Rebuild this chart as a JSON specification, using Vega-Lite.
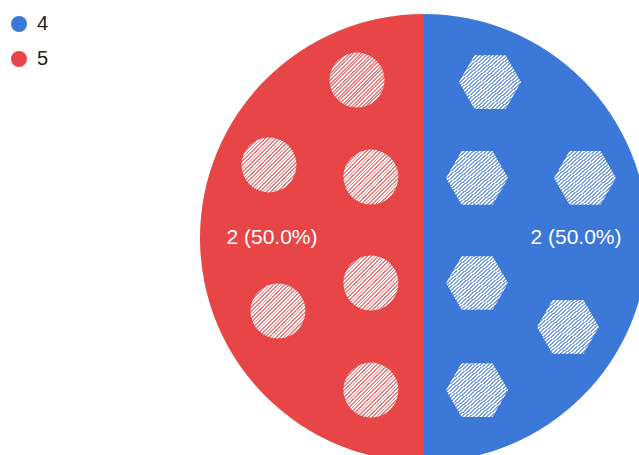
{
  "$schema": "https://vega.github.io/schema/vega-lite/v6.json",
  "width": 639,
  "height": 455,
  "padding": 0,
  "autosize": {"type": "none"},
  "background": "#ffffff",
  "config": {
    "view": {"stroke": null},
    "font": "Liberation Sans",
    "point": {
      "fill": {
        "gradient": "linear", "x1": 0, "y1": 0, "x2": 1, "y2": 1,
        "stops": [
          {"offset": 0, "color": "#ffffff"}, {"offset": 0.01667, "color": "#ffffff"}, {"offset": 0.01667, "color": "rgba(255,255,255,0.3)"}, {"offset": 0.03333, "color": "rgba(255,255,255,0.3)"},
          {"offset": 0.03333, "color": "#ffffff"}, {"offset": 0.05, "color": "#ffffff"}, {"offset": 0.05, "color": "rgba(255,255,255,0.3)"}, {"offset": 0.06667, "color": "rgba(255,255,255,0.3)"},
          {"offset": 0.06667, "color": "#ffffff"}, {"offset": 0.08333, "color": "#ffffff"}, {"offset": 0.08333, "color": "rgba(255,255,255,0.3)"}, {"offset": 0.1, "color": "rgba(255,255,255,0.3)"},
          {"offset": 0.1, "color": "#ffffff"}, {"offset": 0.11667, "color": "#ffffff"}, {"offset": 0.11667, "color": "rgba(255,255,255,0.3)"}, {"offset": 0.13333, "color": "rgba(255,255,255,0.3)"},
          {"offset": 0.13333, "color": "#ffffff"}, {"offset": 0.15, "color": "#ffffff"}, {"offset": 0.15, "color": "rgba(255,255,255,0.3)"}, {"offset": 0.16667, "color": "rgba(255,255,255,0.3)"},
          {"offset": 0.16667, "color": "#ffffff"}, {"offset": 0.18333, "color": "#ffffff"}, {"offset": 0.18333, "color": "rgba(255,255,255,0.3)"}, {"offset": 0.2, "color": "rgba(255,255,255,0.3)"},
          {"offset": 0.2, "color": "#ffffff"}, {"offset": 0.21667, "color": "#ffffff"}, {"offset": 0.21667, "color": "rgba(255,255,255,0.3)"}, {"offset": 0.23333, "color": "rgba(255,255,255,0.3)"},
          {"offset": 0.23333, "color": "#ffffff"}, {"offset": 0.25, "color": "#ffffff"}, {"offset": 0.25, "color": "rgba(255,255,255,0.3)"}, {"offset": 0.26667, "color": "rgba(255,255,255,0.3)"},
          {"offset": 0.26667, "color": "#ffffff"}, {"offset": 0.28333, "color": "#ffffff"}, {"offset": 0.28333, "color": "rgba(255,255,255,0.3)"}, {"offset": 0.3, "color": "rgba(255,255,255,0.3)"},
          {"offset": 0.3, "color": "#ffffff"}, {"offset": 0.31667, "color": "#ffffff"}, {"offset": 0.31667, "color": "rgba(255,255,255,0.3)"}, {"offset": 0.33333, "color": "rgba(255,255,255,0.3)"},
          {"offset": 0.33333, "color": "#ffffff"}, {"offset": 0.35, "color": "#ffffff"}, {"offset": 0.35, "color": "rgba(255,255,255,0.3)"}, {"offset": 0.36667, "color": "rgba(255,255,255,0.3)"},
          {"offset": 0.36667, "color": "#ffffff"}, {"offset": 0.38333, "color": "#ffffff"}, {"offset": 0.38333, "color": "rgba(255,255,255,0.3)"}, {"offset": 0.4, "color": "rgba(255,255,255,0.3)"},
          {"offset": 0.4, "color": "#ffffff"}, {"offset": 0.41667, "color": "#ffffff"}, {"offset": 0.41667, "color": "rgba(255,255,255,0.3)"}, {"offset": 0.43333, "color": "rgba(255,255,255,0.3)"},
          {"offset": 0.43333, "color": "#ffffff"}, {"offset": 0.45, "color": "#ffffff"}, {"offset": 0.45, "color": "rgba(255,255,255,0.3)"}, {"offset": 0.46667, "color": "rgba(255,255,255,0.3)"},
          {"offset": 0.46667, "color": "#ffffff"}, {"offset": 0.48333, "color": "#ffffff"}, {"offset": 0.48333, "color": "rgba(255,255,255,0.3)"}, {"offset": 0.5, "color": "rgba(255,255,255,0.3)"},
          {"offset": 0.5, "color": "#ffffff"}, {"offset": 0.51667, "color": "#ffffff"}, {"offset": 0.51667, "color": "rgba(255,255,255,0.3)"}, {"offset": 0.53333, "color": "rgba(255,255,255,0.3)"},
          {"offset": 0.53333, "color": "#ffffff"}, {"offset": 0.55, "color": "#ffffff"}, {"offset": 0.55, "color": "rgba(255,255,255,0.3)"}, {"offset": 0.56667, "color": "rgba(255,255,255,0.3)"},
          {"offset": 0.56667, "color": "#ffffff"}, {"offset": 0.58333, "color": "#ffffff"}, {"offset": 0.58333, "color": "rgba(255,255,255,0.3)"}, {"offset": 0.6, "color": "rgba(255,255,255,0.3)"},
          {"offset": 0.6, "color": "#ffffff"}, {"offset": 0.61667, "color": "#ffffff"}, {"offset": 0.61667, "color": "rgba(255,255,255,0.3)"}, {"offset": 0.63333, "color": "rgba(255,255,255,0.3)"},
          {"offset": 0.63333, "color": "#ffffff"}, {"offset": 0.65, "color": "#ffffff"}, {"offset": 0.65, "color": "rgba(255,255,255,0.3)"}, {"offset": 0.66667, "color": "rgba(255,255,255,0.3)"},
          {"offset": 0.66667, "color": "#ffffff"}, {"offset": 0.68333, "color": "#ffffff"}, {"offset": 0.68333, "color": "rgba(255,255,255,0.3)"}, {"offset": 0.7, "color": "rgba(255,255,255,0.3)"},
          {"offset": 0.7, "color": "#ffffff"}, {"offset": 0.71667, "color": "#ffffff"}, {"offset": 0.71667, "color": "rgba(255,255,255,0.3)"}, {"offset": 0.73333, "color": "rgba(255,255,255,0.3)"},
          {"offset": 0.73333, "color": "#ffffff"}, {"offset": 0.75, "color": "#ffffff"}, {"offset": 0.75, "color": "rgba(255,255,255,0.3)"}, {"offset": 0.76667, "color": "rgba(255,255,255,0.3)"},
          {"offset": 0.76667, "color": "#ffffff"}, {"offset": 0.78333, "color": "#ffffff"}, {"offset": 0.78333, "color": "rgba(255,255,255,0.3)"}, {"offset": 0.8, "color": "rgba(255,255,255,0.3)"},
          {"offset": 0.8, "color": "#ffffff"}, {"offset": 0.81667, "color": "#ffffff"}, {"offset": 0.81667, "color": "rgba(255,255,255,0.3)"}, {"offset": 0.83333, "color": "rgba(255,255,255,0.3)"},
          {"offset": 0.83333, "color": "#ffffff"}, {"offset": 0.85, "color": "#ffffff"}, {"offset": 0.85, "color": "rgba(255,255,255,0.3)"}, {"offset": 0.86667, "color": "rgba(255,255,255,0.3)"},
          {"offset": 0.86667, "color": "#ffffff"}, {"offset": 0.88333, "color": "#ffffff"}, {"offset": 0.88333, "color": "rgba(255,255,255,0.3)"}, {"offset": 0.9, "color": "rgba(255,255,255,0.3)"},
          {"offset": 0.9, "color": "#ffffff"}, {"offset": 0.91667, "color": "#ffffff"}, {"offset": 0.91667, "color": "rgba(255,255,255,0.3)"}, {"offset": 0.93333, "color": "rgba(255,255,255,0.3)"},
          {"offset": 0.93333, "color": "#ffffff"}, {"offset": 0.95, "color": "#ffffff"}, {"offset": 0.95, "color": "rgba(255,255,255,0.3)"}, {"offset": 0.96667, "color": "rgba(255,255,255,0.3)"},
          {"offset": 0.96667, "color": "#ffffff"}, {"offset": 0.98333, "color": "#ffffff"}, {"offset": 0.98333, "color": "rgba(255,255,255,0.3)"}, {"offset": 1, "color": "rgba(255,255,255,0.3)"}
        ]
      }
    }
  },
  "datasets": {
    "answers": [
      {"answer": "4", "count": 2, "label": "2 (50.0%)"},
      {"answer": "5", "count": 2, "label": "2 (50.0%)"}
    ],
    "motifs": [
      {"kind": "circle", "x": -0.299, "y": 0.705},
      {"kind": "circle", "x": -0.692, "y": 0.326},
      {"kind": "circle", "x": -0.237, "y": 0.272},
      {"kind": "circle", "x": -0.237, "y": -0.201},
      {"kind": "circle", "x": -0.652, "y": -0.326},
      {"kind": "circle", "x": -0.237, "y": -0.679},
      {"kind": "hexagon", "x": 0.295, "y": 0.696},
      {"kind": "hexagon", "x": 0.237, "y": 0.268},
      {"kind": "hexagon", "x": 0.719, "y": 0.268},
      {"kind": "hexagon", "x": 0.237, "y": -0.201},
      {"kind": "hexagon", "x": 0.643, "y": -0.397},
      {"kind": "hexagon", "x": 0.237, "y": -0.679}
    ]
  },
  "layer": [
    {
      "data": {"name": "answers"},
      "mark": {"type": "arc", "radius": 224},
      "encoding": {
        "x": {"datum": 0, "type": "quantitative", "scale": {"domain": [-1.893, 0.96], "nice": false, "zero": false}, "axis": null},
        "y": {"datum": 0, "type": "quantitative", "scale": {"domain": [-0.969, 1.0625], "nice": false, "zero": false}, "axis": null},
        "theta": {"field": "count", "type": "quantitative", "stack": true},
        "color": {
          "field": "answer",
          "type": "nominal",
          "scale": {"domain": ["4", "5"], "range": ["#3c78d8", "#e84547"]},
          "legend": {
            "title": null,
            "orient": "none",
            "legendX": 9,
            "legendY": 14,
            "symbolType": "circle",
            "symbolSize": 256,
            "symbolStrokeWidth": 0,
            "symbolOpacity": 1,
            "labelFontSize": 20,
            "labelColor": "#222222",
            "labelOffset": 8,
            "rowPadding": 15,
            "labelFont": "Liberation Sans"
          }
        }
      }
    },
    {
      "data": {"name": "answers"},
      "mark": {"type": "text", "radius": 152, "color": "#ffffff", "fontSize": 21, "align": "center", "baseline": "middle", "font": "Liberation Sans"},
      "encoding": {
        "x": {"datum": 0, "type": "quantitative"},
        "y": {"datum": 0, "type": "quantitative"},
        "theta": {"field": "count", "type": "quantitative", "stack": true},
        "detail": {"field": "answer"},
        "text": {"field": "label"}
      }
    },
    {
      "data": {"name": "motifs"},
      "transform": [{"filter": "datum.kind === 'circle'"}],
      "mark": {"type": "point", "shape": "circle", "filled": true, "opacity": 1, "size": 3025, "strokeWidth": 0},
      "encoding": {
        "x": {"field": "x", "type": "quantitative"},
        "y": {"field": "y", "type": "quantitative"}
      }
    },
    {
      "data": {"name": "motifs"},
      "transform": [{"filter": "datum.kind === 'hexagon'"}],
      "mark": {"type": "point", "shape": "M-1,0L-0.5,-0.866L0.5,-0.866L1,0L0.5,0.866L-0.5,0.866Z", "filled": true, "opacity": 1, "size": 3844, "strokeWidth": 0},
      "encoding": {
        "x": {"field": "x", "type": "quantitative"},
        "y": {"field": "y", "type": "quantitative"}
      }
    }
  ]
}
